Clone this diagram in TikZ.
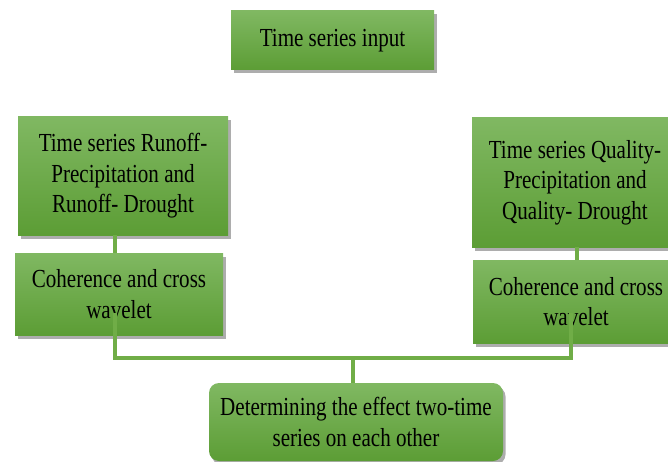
\documentclass[tikz,border=0pt]{standalone}
\usepackage{fontspec}
\setmainfont{Liberation Serif}
\newfontfamily\boxfont{Liberation Serif}[FakeStretch=0.81]
\usetikzlibrary{shadows}
\definecolor{gtop}{HTML}{80B862}
\definecolor{gbot}{HTML}{5C9D35}
\definecolor{gline}{HTML}{70AD47}
\begin{document}
\begin{tikzpicture}[x=1pt,y=-1pt,
  box/.style={rectangle, top color=gtop, bottom color=gbot, draw=none, align=center,
    font=\boxfont\fontsize{26}{30.5}\selectfont, inner sep=0pt,
    drop shadow={shadow xshift=2.5pt, shadow yshift=-3.5pt, opacity=0.4, fill=black!80}},
  link/.style={draw=gline, line width=3.2pt}]
\useasboundingbox (0,0) rectangle (668,462);
\begin{scope}
\clip (0,0) rectangle (668,462);
\node[box, minimum width=203pt, minimum height=59pt] (input) at (332.5,40.5) {Time series input};
\node[box, minimum width=210pt, minimum height=118pt] (lts) at (123,176) {Time series Runoff-\\Precipitation and\\Runoff- Drought};
\node[box, minimum width=208pt, minimum height=82pt] (lcoh) at (119,294) {Coherence and cross\\wavelet};
\node[box, minimum width=206pt, minimum height=129pt] (rts) at (575,182.5) {Time series Quality-\\Precipitation and\\Quality- Drought};
\node[box, minimum width=206pt, minimum height=83pt] (rcoh) at (576,301.5) {Coherence and cross\\wavelet};
\node[box, rounded corners=10pt, minimum width=294pt, minimum height=78pt] (out) at (356,422) {Determining the effect two-time\\series on each other};
\coordinate (bus) at (353,358);
\draw[link] ([xshift=-8pt]lts.south) -- ([xshift=-4pt]lcoh.north);
\draw[link] ([xshift=2pt]rts.south) -- ([xshift=1pt]rcoh.north);
\draw[link] ([xshift=-4pt,yshift=-19pt]lcoh.center) |- (bus) -| ([xshift=-5pt,yshift=-11pt]rcoh.center);
\draw[link] (bus) -- (bus |- out.north);
\end{scope}
\end{tikzpicture}
\end{document}
